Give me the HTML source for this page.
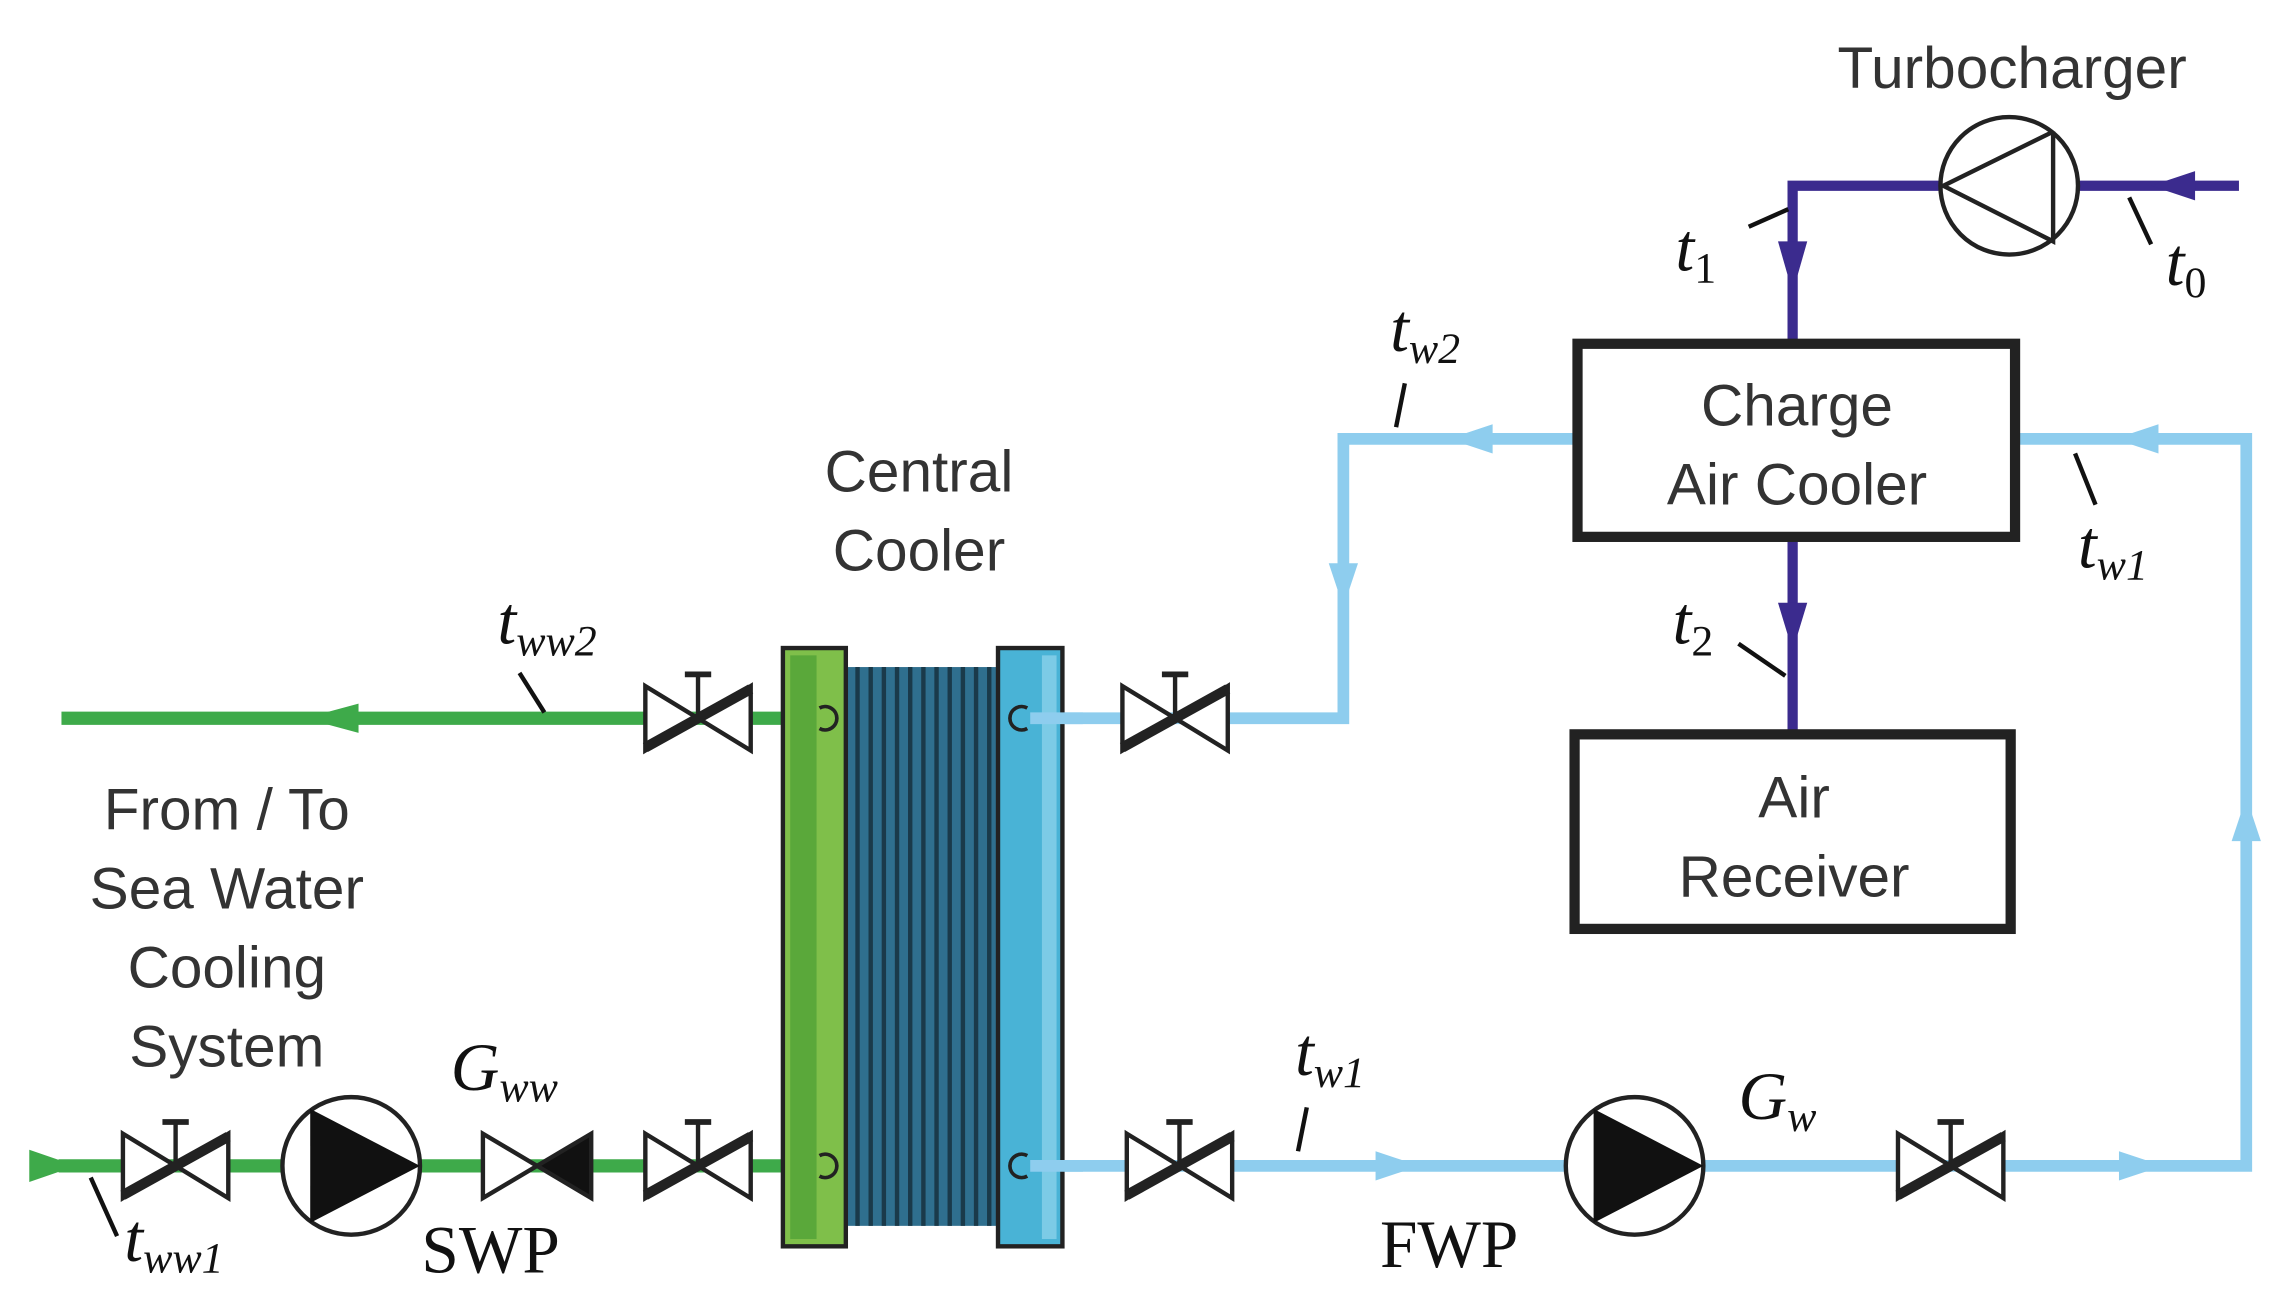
<!DOCTYPE html>
<html><head><meta charset="utf-8"><style>
html,body{margin:0;padding:0;background:#fff;}
svg{display:block;}
.s{font-family:"Liberation Sans",sans-serif;fill:#333;font-size:40px;text-anchor:middle;}
.i{font-family:"Liberation Serif",serif;font-style:italic;fill:#111;font-size:46px;}
.sub{font-size:30px;}
.r{font-family:"Liberation Serif",serif;fill:#111;font-size:46px;}
</style></head><body>
<svg width="2277" height="1299" viewBox="0 0 1556 888" preserveAspectRatio="none" xmlns="http://www.w3.org/2000/svg">
<defs>
<g id="valve">
<polygon points="-36,-22 0,0 -36,22" fill="#fff" stroke="#222" stroke-width="3"/>
<polygon points="36,-22 0,0 36,22" fill="#fff" stroke="#222" stroke-width="3"/>
<line x1="0" y1="0" x2="0" y2="-30" stroke="#222" stroke-width="3"/>
<line x1="-9" y1="-30" x2="9" y2="-30" stroke="#222" stroke-width="4"/>
<line x1="36" y1="-20" x2="-36" y2="20" stroke="#222" stroke-width="7"/>
</g>
</defs>
<!-- green lines -->
<g stroke="#3eaa4a" stroke-width="9" fill="none">
<line x1="42" y1="491" x2="557" y2="491"/>
<line x1="40" y1="797" x2="557" y2="797"/>
</g>
<polygon points="208,491 245,481 245,501" fill="#3eaa4a"/>
<polygon points="20,786 52,797 20,808" fill="#3eaa4a"/>
<!-- light blue -->
<g stroke="#8ecdee" stroke-width="8" fill="none">
<polyline points="704,491 918,491 918,300 1075,300"/>
<polyline points="704,797 1535,797 1535,300 1380,300"/>
</g>
<g fill="#8ecdee">
<polygon points="918,415 908,385 928,385"/>
<polygon points="990,300 1020,290 1020,310"/>
<polygon points="1445,300 1475,290 1475,310"/>
<polygon points="1535,545 1525,575 1545,575"/>
<polygon points="970,797 940,787 940,807"/>
<polygon points="1478,797 1448,787 1448,807"/>
</g>
<!-- purple -->
<g stroke="#3b2b8e" stroke-width="7" fill="none">
<polyline points="1225,232 1225,127 1530,127"/>
<line x1="1225" y1="370" x2="1225" y2="500"/>
</g>
<g fill="#3b2b8e">
<polygon points="1225,200 1215,165 1235,165"/>
<polygon points="1225,445 1215,412 1235,412"/>
<polygon points="1470,127 1500,117 1500,137"/>
</g>
<!-- turbo -->
<ellipse cx="1373" cy="127" rx="47" ry="47" fill="#fff" stroke="#222" stroke-width="3"/>
<polyline points="1403,90 1328,127 1403,165 1403,90" fill="none" stroke="#222" stroke-width="3"/>
<text class="s" x="1375" y="60">Turbocharger</text>
<!-- boxes -->
<rect x="1078" y="235" width="299" height="132" fill="#fff" stroke="#222" stroke-width="7"/>
<text class="s" x="1228" y="291">Charge</text>
<text class="s" x="1228" y="345">Air Cooler</text>
<rect x="1076" y="502" width="298" height="133" fill="#fff" stroke="#222" stroke-width="7"/>
<text class="s" x="1226" y="559">Air</text>
<text class="s" x="1226" y="613">Receiver</text>
<!-- central cooler -->
<rect x="578" y="456" width="104" height="382" fill="#2f6f8e"/>
<g stroke="#1a3a4a" stroke-width="3">
<line x1="586" y1="456" x2="586" y2="838"/><line x1="595" y1="456" x2="595" y2="838"/>
<line x1="604" y1="456" x2="604" y2="838"/><line x1="613" y1="456" x2="613" y2="838"/>
<line x1="622" y1="456" x2="622" y2="838"/><line x1="631" y1="456" x2="631" y2="838"/>
<line x1="640" y1="456" x2="640" y2="838"/><line x1="649" y1="456" x2="649" y2="838"/>
<line x1="658" y1="456" x2="658" y2="838"/><line x1="667" y1="456" x2="667" y2="838"/>
<line x1="676" y1="456" x2="676" y2="838"/>
</g>
<rect x="578" y="456" width="104" height="14" fill="#fff" opacity="0.0"/>
<rect x="535" y="443" width="43" height="409" fill="#7fbf4a" stroke="#222" stroke-width="3"/>
<rect x="540" y="448" width="18" height="399" fill="#5aa83a"/>
<rect x="682" y="443" width="44" height="409" fill="#49b3d6" stroke="#222" stroke-width="3"/>
<rect x="712" y="448" width="10" height="399" fill="#7ccbe6"/>
<g stroke="#222" stroke-width="2.5" fill="none">
<path d="M560,484 A8,8 0 1 1 560,498"/><path d="M560,790 A8,8 0 1 1 560,804"/>
<path d="M702,484 A8,8 0 1 0 702,498"/><path d="M702,790 A8,8 0 1 0 702,804"/>
</g>
<g stroke="#8ecdee" stroke-width="8"><line x1="704" y1="491" x2="740" y2="491"/><line x1="704" y1="797" x2="740" y2="797"/></g>
<text class="s" x="628" y="336">Central</text>
<text class="s" x="628" y="390">Cooler</text>
<!-- valves -->
<use href="#valve" x="120" y="797"/>
<use href="#valve" x="477" y="797"/>
<use href="#valve" x="477" y="491"/>
<use href="#valve" x="803" y="491"/>
<use href="#valve" x="806" y="797"/>
<use href="#valve" x="1333" y="797"/>
<!-- check valve -->
<polygon points="330,775 367,797 330,819" fill="#fff" stroke="#222" stroke-width="3"/>
<polygon points="404,775 367,797 404,819" fill="#111" stroke="#222" stroke-width="3"/>
<!-- pumps -->
<circle cx="240" cy="797" r="47" fill="#fff" stroke="#222" stroke-width="3"/>
<polygon points="212,758 287,797 212,836" fill="#111"/>
<circle cx="1117" cy="797" r="47" fill="#fff" stroke="#222" stroke-width="3"/>
<polygon points="1089,758 1164,797 1089,836" fill="#111"/>
<!-- left text -->
<text class="s" x="155" y="567">From / To</text>
<text class="s" x="155" y="621">Sea Water</text>
<text class="s" x="155" y="675">Cooling</text>
<text class="s" x="155" y="729">System</text>
<!-- leader lines -->
<g stroke="#111" stroke-width="3">
<line x1="355" y1="460" x2="372" y2="487"/>
<line x1="960" y1="262" x2="954" y2="292"/>
<line x1="1195" y1="155" x2="1222" y2="143"/>
<line x1="1455" y1="135" x2="1470" y2="167"/>
<line x1="1418" y1="310" x2="1432" y2="345"/>
<line x1="1188" y1="440" x2="1220" y2="462"/>
<line x1="893" y1="757" x2="887" y2="787"/>
<line x1="62" y1="805" x2="80" y2="845"/>
</g>
<!-- math labels -->
<text class="i" x="340" y="440">t<tspan class="sub" dy="8">ww2</tspan></text>
<text class="i" x="950" y="240">t<tspan class="sub" dy="8">w2</tspan></text>
<text class="i" x="1145" y="185">t<tspan class="sub" dy="8" font-style="normal">1</tspan></text>
<text class="i" x="1480" y="195">t<tspan class="sub" dy="8" font-style="normal">0</tspan></text>
<text class="i" x="1420" y="388">t<tspan class="sub" dy="8">w1</tspan></text>
<text class="i" x="1143" y="440">t<tspan class="sub" dy="8" font-style="normal">2</tspan></text>
<text class="i" x="308" y="745">G<tspan class="sub" dy="8">ww</tspan></text>
<text class="i" x="885" y="735">t<tspan class="sub" dy="8">w1</tspan></text>
<text class="i" x="1188" y="765">G<tspan class="sub" dy="8">w</tspan></text>
<text class="i" x="85" y="862">t<tspan class="sub" dy="8">ww1</tspan></text>
<text class="r" x="288" y="870">SWP</text>
<text class="r" x="943" y="866">FWP</text>
</svg>
</body></html>
